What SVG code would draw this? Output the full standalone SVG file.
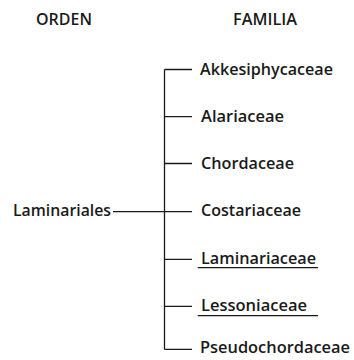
<svg xmlns="http://www.w3.org/2000/svg" width="354" height="360" viewBox="0 0 354 360">
<style>
text{font-family:"Open Sans","Noto Sans",sans-serif;font-size:15.5px;font-weight:600;fill:#1a1a1a}
.ln{stroke:#1a1a1a;stroke-width:1.3;fill:none}
</style>
<rect width="354" height="360" fill="#fff"/>
<g id="headers">
<text x="36" y="24.5" textLength="56" lengthAdjust="spacingAndGlyphs">ORDEN</text>
<text x="233" y="24.5" textLength="64" lengthAdjust="spacingAndGlyphs">FAMILIA</text>
</g>
<g id="connectors">
<path class="ln" d="M164.5 69.5V349.5"/>
<path class="ln" d="M164.5 69.5H192M164.5 116.7H192M164.5 163.5H192M113 211.7H192M164.5 259.3H192M164.5 306.3H192M164.5 349.3H192"/>
</g>
<g id="laminariales"><text x="13" y="215.5" textLength="98" lengthAdjust="spacingAndGlyphs">Laminariales</text></g>
<g id="akkesiphycaceae"><text x="200" y="74.5" textLength="133" lengthAdjust="spacingAndGlyphs">Akkesiphycaceae</text></g>
<g id="alariaceae"><text x="201" y="121.5" textLength="83" lengthAdjust="spacingAndGlyphs">Alariaceae</text></g>
<g id="chordaceae"><text x="201" y="168.5" textLength="93" lengthAdjust="spacingAndGlyphs">Chordaceae</text></g>
<g id="costariaceae"><text x="201" y="216" textLength="100" lengthAdjust="spacingAndGlyphs">Costariaceae</text></g>
<g id="laminariaceae"><text x="201" y="264" textLength="115" lengthAdjust="spacingAndGlyphs">Laminariaceae</text><path class="ln" d="M197.7 267.7H318"/></g>
<g id="lessoniaceae"><text x="201" y="311" textLength="106" lengthAdjust="spacingAndGlyphs">Lessoniaceae</text><path class="ln" d="M197.7 315.7H318"/></g>
<g id="pseudochordaceae"><text x="200" y="353" textLength="150" lengthAdjust="spacingAndGlyphs">Pseudochordaceae</text></g>
</svg>
